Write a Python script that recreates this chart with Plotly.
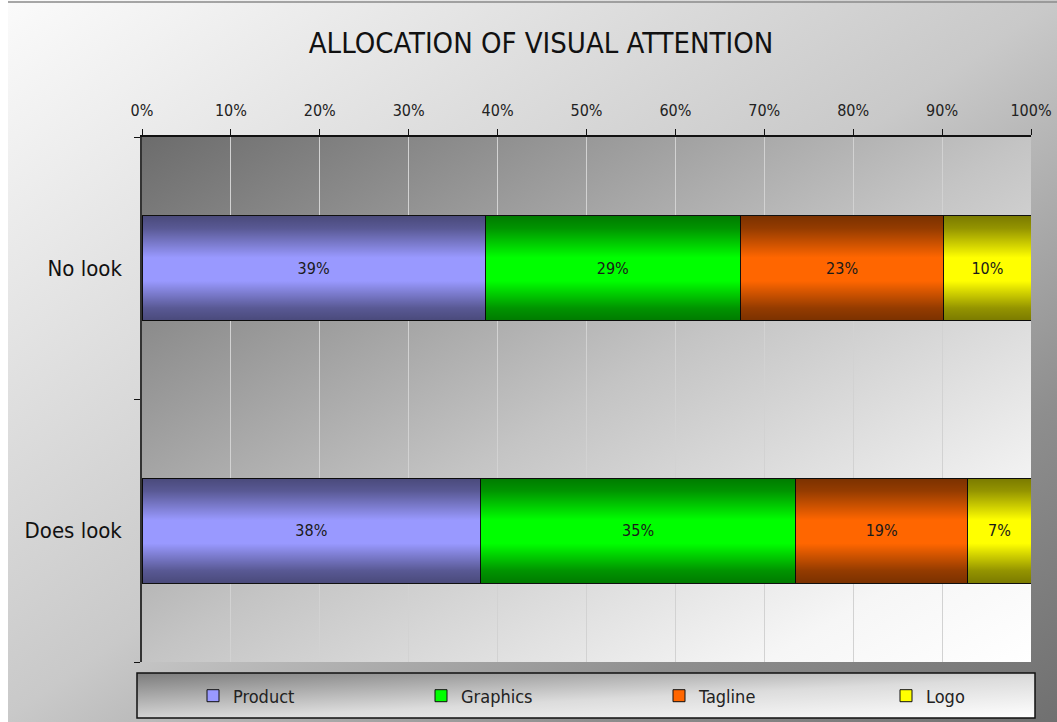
import base64
import plotly.graph_objects as go

# ---------------- data ----------------
categories = ["No look", "Does look"]
series_names = ["Product", "Graphics", "Tagline", "Logo"]
product = [38.6, 38.1]
graphics = [28.7, 35.4]
tagline = [22.9, 19.4]
logo = [9.8, 7.1]
series_values = [product, graphics, tagline, logo]
series_colors = ["#9999FF", "#00FF00", "#FF6600", "#FFFF00"]
x_tick_values = [0, 10, 20, 30, 40, 50, 60, 70, 80, 90, 100]
x_tick_labels = ["0%", "10%", "20%", "30%", "40%", "50%", "60%", "70%", "80%", "90%", "100%"]
title_text = "ALLOCATION OF VISUAL ATTENTION"

# ---------------- layout constants ----------------
W, H = 1057, 722
ML, MR, MT, MB = 142, 26, 137, 60
PW, PH = W - ML - MR, H - MT - MB
BAR_W = 0.4
NARROW = "DejaVu Sans Condensed, Liberation Sans Narrow, sans-serif"
LEGEND_X_PX = [193, 421, 659, 886]   # left edge of each legend entry (styling)


def px_x(px):
    return (px - ML) / PW


def px_y(py):
    return (H - MB - py) / PH


def svg_uri(stops, x2=1, y2=1):
    st = "".join(
        f'<stop offset="{o}" stop-color="{c}" stop-opacity="{a}"/>' for o, c, a in stops
    )
    svg = (
        '<svg xmlns="http://www.w3.org/2000/svg" width="100" height="100" '
        'viewBox="0 0 100 100" preserveAspectRatio="none">'
        f'<defs><linearGradient id="g" x1="0" y1="0" x2="{x2}" y2="{y2}">{st}</linearGradient></defs>'
        '<rect x="0" y="0" width="100" height="100" fill="url(#g)"/></svg>'
    )
    return "data:image/svg+xml;base64," + base64.b64encode(svg.encode()).decode()


paper_grad = svg_uri([(0, "#fbfbfb", 1), (0.5, "#c9c9c9", 1), (0.78, "#8e8e8e", 1), (1, "#707070", 1)])
plot_grad = svg_uri([(0, "#6c6c6c", 1), (0.5, "#c4c4c4", 1), (0.85, "#f6f6f6", 1), (1, "#ffffff", 1)])
legend_grad = svg_uri([(0, "#7c7c7c", 1), (0.55, "#dcdcdc", 1), (1, "#ffffff", 1)])
bar_shade = svg_uri(
    [(0, "#000000", 0.52), (0.12, "#000000", 0.42), (0.4, "#000000", 0),
     (0.62, "#000000", 0), (0.88, "#000000", 0.42), (1, "#000000", 0.52)],
    x2=0, y2=1,
)

# category order: first category on top
cat_order = categories[::-1]

legend_ids = ["legend"] + [f"legend{k}" for k in range(2, len(series_names) + 1)]

fig = go.Figure()
for name, vals, col, lid in zip(series_names, series_values, series_colors, legend_ids):
    fig.add_trace(
        go.Bar(
            name=name,
            y=categories,
            x=vals,
            orientation="h",
            width=BAR_W,
            legend=lid,
            marker=dict(color=col, line=dict(color="#111111", width=1)),
            text=[f"{round(v)}%" for v in vals],
            textposition="inside",
            insidetextanchor="middle",
            textangle=0,
            constraintext="none",
            textfont=dict(family=NARROW, size=16, color="#1a1a1a"),
            hoverinfo="skip",
        )
    )

images = [
    # whole-figure background
    dict(source=paper_grad, xref="paper", yref="paper", x=px_x(0), y=px_y(0),
         sizex=W / PW, sizey=H / PH, xanchor="left", yanchor="top",
         sizing="stretch", layer="below"),
    # legend box background
    dict(source=legend_grad, xref="paper", yref="paper", x=px_x(137), y=px_y(673),
         sizex=(1035 - 137) / PW, sizey=(718 - 673) / PH, xanchor="left", yanchor="top",
         sizing="stretch", layer="below"),
    # plot area background
    dict(source=plot_grad, xref="x domain", yref="y domain", x=0, y=1,
         sizex=1, sizey=1, xanchor="left", yanchor="top",
         sizing="stretch", layer="below"),
]
# cylindrical shading over each bar row
for cat in categories:
    i = cat_order.index(cat)
    total = sum(v[categories.index(cat)] for v in series_values)
    images.append(
        dict(source=bar_shade, xref="x", yref="y", x=0, y=i, sizex=total, sizey=BAR_W,
             xanchor="left", yanchor="middle", sizing="stretch", layer="above", opacity=1)
    )

shapes = [
    dict(type="rect", xref="paper", yref="paper", x0=px_x(0), x1=px_x(8), y0=px_y(722), y1=px_y(0),
         fillcolor="#ffffff", line=dict(width=0), layer="below"),
    dict(type="line", xref="paper", yref="paper", x0=px_x(8), x1=px_x(W), y0=px_y(2), y1=px_y(2),
         line=dict(color="#8a8a8a", width=1.5), layer="below"),
    dict(type="rect", xref="paper", yref="paper", x0=px_x(137), x1=px_x(1035), y0=px_y(718), y1=px_y(673),
         line=dict(color="#111111", width=1.5), fillcolor="rgba(0,0,0,0)", layer="below"),
]

legend_layouts = {}
for lid, lx in zip(legend_ids, LEGEND_X_PX):
    legend_layouts[lid] = dict(
        orientation="h",
        xref="container", yref="container",
        x=lx / W, y=1 - 696 / H, xanchor="left", yanchor="middle",
        bgcolor="rgba(0,0,0,0)",
        borderwidth=0,
        font=dict(family=NARROW, size=18, color="#222222"),
    )

fig.update_layout(
    width=W,
    height=H,
    margin=dict(l=ML, r=MR, t=MT, b=MB, pad=0, autoexpand=False),
    barmode="stack",
    paper_bgcolor="#d0d0d0",
    plot_bgcolor="rgba(0,0,0,0)",
    images=images,
    shapes=shapes,
    title=dict(
        text=title_text,
        xref="container", yref="container",
        x=541 / W, y=1 - 43 / H, xanchor="center", yanchor="middle",
        font=dict(family=NARROW, size=29, color="#111111"),
    ),
    showlegend=True,
    **legend_layouts,
    xaxis=dict(
        range=[0, 100],
        side="top",
        tickvals=x_tick_values,
        ticktext=x_tick_labels,
        ticks="outside",
        ticklen=6,
        tickcolor="#111111",
        ticklabelstandoff=7,
        showline=True,
        linecolor="#111111",
        linewidth=1.5,
        showgrid=True,
        gridcolor="#d2d2d2",
        gridwidth=1,
        zeroline=False,
        automargin=False,
        tickfont=dict(family=NARROW, size=16, color="#222222"),
        fixedrange=True,
    ),
    yaxis=dict(
        type="category",
        categoryorder="array",
        categoryarray=cat_order,
        range=[-0.5, len(categories) - 0.5],
        tickson="boundaries",
        ticks="outside",
        ticklen=6,
        tickcolor="#111111",
        ticklabelstandoff=14,
        showline=True,
        linecolor="#333333",
        linewidth=1.5,
        showgrid=False,
        zeroline=False,
        automargin=False,
        tickfont=dict(family=NARROW, size=22, color="#111111"),
        fixedrange=True,
    ),
)

fig.write_html(
    "out.html",
    config={"displayModeBar": False},
    post_script="document.body.style.margin='0';document.body.style.overflow='hidden';",
)
